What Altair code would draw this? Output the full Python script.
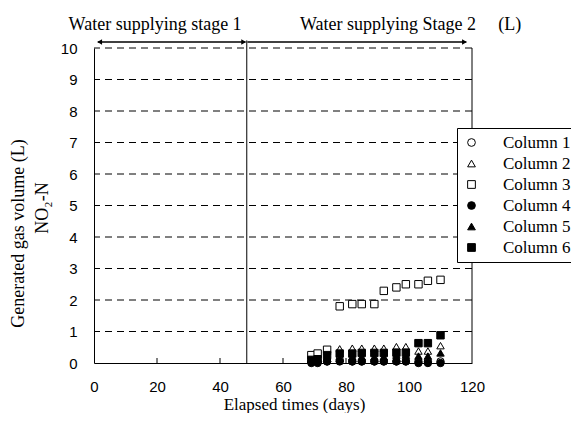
import altair as alt
import pandas as pd

# ---- data ----
days = [69, 71, 74, 78, 82, 85, 89, 92, 96, 99, 103, 106, 110]
col1 = [0.05, 0.05, 0.05, 0.10, 0.05, 0.05, 0.05, 0.05, 0.05, 0.05, 0.05, 0.05, 0.05]
col2 = [0.25, 0.28, 0.38, 0.45, 0.47, 0.47, 0.47, 0.47, 0.52, 0.52, 0.38, 0.38, 0.55]
col3 = [0.25, 0.30, 0.42, 1.80, 1.87, 1.87, 1.87, 2.29, 2.40, 2.50, 2.50, 2.61, 2.64]
col4 = [0.00, 0.00, 0.05, 0.05, 0.05, 0.05, 0.05, 0.05, 0.05, 0.05, 0.00, 0.00, 0.00]
col5 = [0.10, 0.10, 0.20, 0.15, 0.20, 0.20, 0.20, 0.20, 0.25, 0.25, 0.22, 0.22, 0.32]
col6 = [0.10, 0.12, 0.25, 0.30, 0.30, 0.32, 0.32, 0.32, 0.33, 0.33, 0.63, 0.63, 0.88]
series_names = ["Column 1", "Column 2", "Column 3", "Column 4", "Column 5", "Column 6"]
series_shapes = ["circle", "triangle-up", "square", "circle", "triangle-up", "square"]
series_fills = ["white", "white", "white", "black", "black", "black"]
series_strokes = ["black"] * 6

x_ticks = [0, 20, 40, 60, 80, 100, 120]
inner_ticks = [20, 40, 60, 80, 100]
y_ticks = list(range(0, 11))
grid_levels = list(range(1, 11))

stage_boundary = 48.5
arrow_level = 10.19
arrow1 = (1.2, 48.1)
arrow2 = (48.7, 118.2)
stage_titles = ["Water supplying stage 1", "Water supplying Stage 2", "(L)"]
stage_title_x = [19.4, 93.3, 132.0]
stage_title_y = 10.74

W, H = 378, 315
SERIF = "Liberation Serif"
SANS = "Liberation Sans"

rows = []
for name, vals in zip(series_names, [col1, col2, col3, col4, col5, col6]):
    for d, v in zip(days, vals):
        rows.append({"x": d, "y": v, "series": name, "ord": series_names.index(name)})
pts = pd.DataFrame(rows)

XAX = alt.Axis(values=x_ticks, title="Elapsed times (days)", grid=False, ticks=False,
               labelFont=SANS, labelFontSize=15, labelPadding=16, labelColor="black",
               titleFont=SERIF, titleFontSize=17, titleFontWeight="normal",
               titleBaseline="alphabetic", titleY=46.5, titleX=200,
               titleColor="black", domainColor="black", labelFlush=False)
YAX = alt.Axis(values=y_ticks, title="Generated gas volume (L)", grid=False, ticks=False,
               labelFont=SANS, labelFontSize=15, labelPadding=17, labelColor="black",
               titleFont=SERIF, titleFontSize=18, titleFontWeight="normal",
               titleX=-67, titleY=185, titleColor="black", domainColor="black")
XS = alt.Scale(domain=[0, 120], nice=False, zero=False)
YS = alt.Scale(domain=[0, 10], nice=False)


def xe(f="x"):
    return alt.X(f + ":Q", scale=XS, axis=XAX)


def ye(f="y"):
    return alt.Y(f + ":Q", scale=YS, axis=YAX)


grid = alt.Chart(pd.DataFrame({"y": grid_levels})).mark_rule(
    color="black", strokeWidth=1, strokeDash=[7, 5]
).encode(y=ye())

right_border = alt.Chart(pd.DataFrame({"x": [120], "y": [0], "y2": [10]})).mark_rule(
    color="black", strokeWidth=1
).encode(x=xe(), y=ye(), y2="y2:Q")

divider = alt.Chart(pd.DataFrame({"x": [stage_boundary], "y": [0], "y2": [arrow_level + 0.05]})).mark_rule(
    color="black", strokeWidth=1
).encode(x=xe(), y=ye(), y2="y2:Q")

ticks = alt.Chart(pd.DataFrame({"x": inner_ticks})).mark_rule(color="black", strokeWidth=1).encode(
    x=xe(), y=alt.value(H), y2=alt.value(H - 5)
)

arrows = alt.Chart(pd.DataFrame({
    "x": [arrow1[0], arrow2[0]], "x2": [arrow1[1], arrow2[1]], "y": [arrow_level, arrow_level]
})).mark_rule(color="black", strokeWidth=1.3).encode(x=xe(), x2="x2:Q", y=ye())

heads_left = alt.Chart(pd.DataFrame({"x": [arrow1[0] + 0.6], "y": [arrow_level]})).mark_point(
    filled=True, color="black", size=30, opacity=1, shape="triangle-left"
).encode(x=xe(), y=ye())

heads_right = alt.Chart(pd.DataFrame({"x": [arrow1[1] - 0.6, arrow2[1] - 0.6],
                                      "y": [arrow_level] * 2})).mark_point(
    filled=True, color="black", size=30, opacity=1, shape="triangle-right"
).encode(x=xe(), y=ye())

titles = alt.Chart(pd.DataFrame({
    "x": stage_title_x, "y": [stage_title_y] * 3, "t": stage_titles
})).mark_text(font=SERIF, fontSize=18, color="black", baseline="middle").encode(
    x=xe(), y=ye(), text="t:N"
)

no2 = alt.Chart(pd.DataFrame({"t": ["NO₂-N"]})).mark_text(
    font=SERIF, fontSize=18, color="black", angle=270, baseline="middle"
).encode(x=alt.value(-51), y=alt.value(160), text="t:N")

points = alt.Chart(pts).mark_point(
    filled=True, strokeWidth=1, size=55, opacity=1
).encode(
    x=xe(), y=ye(),
    shape=alt.Shape("series:N", scale=alt.Scale(domain=series_names, range=series_shapes),
                    legend=alt.Legend(title=None)),
    fill=alt.Fill("series:N", scale=alt.Scale(domain=series_names, range=series_fills),
                  legend=alt.Legend(title=None)),
    stroke=alt.Stroke("series:N", scale=alt.Scale(domain=series_names, range=series_strokes),
                      legend=alt.Legend(title=None)),
    order=alt.Order("ord:Q"),
)

chart = alt.layer(grid, right_border, divider, ticks, arrows, heads_left, heads_right,
                  titles, no2, points).properties(
    width=W, height=H,
    autosize=alt.AutoSizeParams(type="none"),
    padding={"left": 86, "top": 40, "right": 99, "bottom": 50},
).configure_view(stroke=None).configure_legend(
    orient="none", legendX=363, legendY=80,
    strokeColor="black", fillColor="white", padding=6,
    labelFont=SERIF, labelFontSize=17, labelColor="black", labelOffset=23,
    symbolSize=60, symbolStrokeWidth=1, rowPadding=3,
    cornerRadius=0, labelLimit=200,
)

chart.save("out.html", embed_options={"renderer": "svg", "actions": False})
